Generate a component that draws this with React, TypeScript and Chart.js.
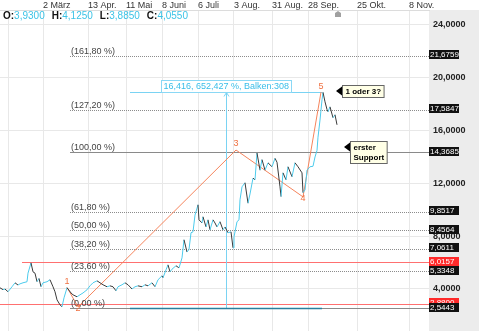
import React, { useEffect, useRef } from 'react';
import { Chart, registerables } from 'chart.js';

Chart.register(...registerables);

// ---- data ----
const barIndex = [
  0, 3, 5, 8, 12, 15, 18, 20, 23, 27, 28, 31, 33, 35, 37, 39, 41, 43, 47, 50,
  53, 55, 57, 60, 62, 64, 67, 68, 71, 73, 77, 80, 83, 87, 90, 93, 97, 100, 103, 107,
  110, 113, 116, 118, 122, 125, 128, 132, 135, 138, 142, 145, 148, 152, 155, 158, 162, 163, 166, 168,
  170, 172, 176, 179, 182, 184, 187, 189, 191, 193, 195, 198, 199, 202, 203, 206, 208, 210, 213, 215,
  217, 220, 223, 225, 228, 231, 233, 234, 237, 239, 240, 242, 245, 248, 250, 253, 255, 257, 260, 262,
  265, 268, 272, 275, 277, 280, 281, 283, 286, 288, 292, 295, 298, 302, 303, 305, 307, 310, 313, 315,
  317, 318, 320, 322, 323, 325, 327, 328, 330, 333, 335, 337,
];
const closePrice = [
  4.09, 3.95, 4.0, 3.79, 4.17, 4.47, 4.3, 4.39, 4.47, 4.55, 5.2, 5.98, 5.3, 5.2, 4.55, 4.8, 4.17, 4.47, 4.55, 4.7,
  4.17, 3.79, 3.18, 2.8, 2.65, 3.33, 4.09, 4.0, 3.7, 3.56, 3.41, 3.56, 3.7, 3.94, 4.24, 4.47, 4.62, 4.47, 4.32, 4.17,
  4.24, 4.17, 3.86, 4.17, 4.32, 4.47, 4.32, 4.0, 4.17, 4.24, 4.17, 4.32, 4.24, 4.47, 4.17, 4.7, 5.0, 4.85, 5.45, 5.83,
  5.3, 5.5, 5.76, 5.6, 6.36, 7.73, 6.8, 7.0, 8.26, 8.33, 9.6, 10.38, 9.24, 9.0, 9.47, 8.7, 9.24, 8.48, 9.24, 9.0,
  8.7, 9.1, 8.48, 8.7, 8.26, 8.33, 7.12, 7.95, 9.1, 9.24, 10.76, 11.74, 12.05, 10.5, 11.2, 12.4, 12.27, 14.3, 13.0, 13.8,
  13.0, 13.56, 13.26, 13.9, 13.6, 11.74, 11.0, 12.8, 12.27, 13.26, 12.5, 13.56, 13.26, 12.8, 11.3, 11.5, 13.0, 13.26, 13.3, 14.0,
  14.5, 15.5, 16.8, 18.33, 18.9, 18.18, 17.6, 17.42, 17.8, 16.97, 17.2, 16.44,
];

const xTickBars = [8, 43, 88, 126, 162, 198, 234, 272, 308, 357, 409];
const xTickLabels = ['', '2 März', '13 Apr.', '11 Mai', '8 Juni', '6 Juli', '3 Aug.', '31 Aug.', '28 Sep.', '25 Okt.', '8 Nov.'];
const yTicks = [4, 8, 12, 16, 20, 24];

const fibLabels = ['(0,00 %)', '(23,60 %)', '(38,20 %)', '(50,00 %)', '(61,80 %)', '(100,00 %)', '(127,20 %)', '(161,80 %)'];
const fibValues = [2.5443, 5.3348, 7.0611, 8.4564, 9.8517, 14.3685, 17.5847, 21.6759];
const fibStartBar = 70;

const redLevels = [6.0157, 2.88];
const redStartBars = [22, 0];

const waveLabels = ['1', '2', '3', '4', '5'];
const waveBars = [67, 78, 236, 303, 321];
const wavePrices = [4.13, 2.64, 14.53, 10.98, 18.92];

const measureBars = [130, 322];
const measurePrices = [2.5443, 18.9603];
const measureText = '16,416, 652,427 %, Balken:308';

const ohlcLabels = ['O:', 'H:', 'L:', 'C:'];
const ohlcValues = ['3,9300', '4,1250', '3,8850', '4,0550'];

const noteTexts = [['1 oder 3?'], ['erster', 'Support']];
const noteBars = [336, 344];
const notePrices = [19.0, 14.75];

const fmt = (v: number) => v.toFixed(4).replace('.', ',');

const CYAN = '#4ccbec';
const DARK = '#3a3a3a';
const ORANGE = '#f5845c';

const overlay = {
  id: 'overlay',
  beforeDraw(chart: any) {
    const { ctx, chartArea, width, height } = chart;
    ctx.save();
    ctx.fillStyle = '#ececec';
    ctx.fillRect(chartArea.right, chartArea.top, width - chartArea.right, height - chartArea.top);
    ctx.restore();
  },
  beforeDatasetsDraw(chart: any) {
    const { ctx, chartArea } = chart;
    const xs = chart.scales.x;
    const ys = chart.scales.y;
    ctx.save();
    // red lines
    ctx.strokeStyle = '#ff7070';
    ctx.lineWidth = 1.2;
    redLevels.forEach((v, i) => {
      const y = Math.round(ys.getPixelForValue(v)) + 0.5;
      ctx.beginPath();
      ctx.moveTo(xs.getPixelForValue(redStartBars[i]), y);
      ctx.lineTo(chartArea.right, y);
      ctx.stroke();
    });
    // fib lines
    fibValues.forEach((v, i) => {
      const y = Math.round(ys.getPixelForValue(v)) + 0.5;
      const solid = fibLabels[i] === '(100,00 %)' || fibLabels[i] === '(0,00 %)';
      ctx.setLineDash(solid ? [] : [1, 1]);
      ctx.strokeStyle = solid ? '#8a8a8a' : '#8c8c8c';
      ctx.lineWidth = 1;
      ctx.beginPath();
      ctx.moveTo(xs.getPixelForValue(fibStartBar), y);
      ctx.lineTo(chartArea.right, y);
      ctx.stroke();
    });
    ctx.setLineDash([]);
    // measurement
    const x0 = xs.getPixelForValue(measureBars[0]);
    const x1 = xs.getPixelForValue(measureBars[1]);
    const xm = Math.round((x0 + x1) / 2) + 0.5;
    const yLow = Math.round(ys.getPixelForValue(measurePrices[0])) + 0.5;
    const yHigh = Math.round(ys.getPixelForValue(measurePrices[1])) + 0.5;
    ctx.strokeStyle = '#7ad3f3';
    ctx.lineWidth = 1;
    ctx.beginPath();
    ctx.moveTo(x0, yHigh);
    ctx.lineTo(x1, yHigh);
    ctx.moveTo(xm, yLow);
    ctx.lineTo(xm, yHigh);
    ctx.stroke();
    ctx.beginPath();
    ctx.moveTo(xm - 2.5, yHigh + 4);
    ctx.lineTo(xm, yHigh);
    ctx.lineTo(xm + 2.5, yHigh + 4);
    ctx.stroke();
    ctx.strokeStyle = '#2a7f9e';
    ctx.lineWidth = 1.5;
    ctx.beginPath();
    ctx.moveTo(x0, yLow);
    ctx.lineTo(x1, yLow);
    ctx.stroke();
    ctx.restore();
  },
  afterDatasetsDraw(chart: any) {
    const { ctx, chartArea } = chart;
    const xs = chart.scales.x;
    const ys = chart.scales.y;
    ctx.save();
    // fib labels
    ctx.font = '9px Arial';
    ctx.fillStyle = '#444';
    ctx.textBaseline = 'middle';
    ctx.textAlign = 'left';
    fibValues.forEach((v, i) => {
      ctx.fillText(fibLabels[i], xs.getPixelForValue(fibStartBar) + 1, ys.getPixelForValue(v) - 4.5);
    });
    // wave labels
    ctx.fillStyle = '#f07040';
    ctx.textAlign = 'center';
    waveLabels.forEach((t, i) => {
      const up = i % 2 === 0;
      ctx.fillText(t, xs.getPixelForValue(waveBars[i]), ys.getPixelForValue(wavePrices[i]) + (up ? -6 : 2));
    });
    // measurement box
    const x0 = xs.getPixelForValue(measureBars[0]);
    const x1 = xs.getPixelForValue(measureBars[1]);
    const xm = (x0 + x1) / 2;
    const yHigh = Math.round(ys.getPixelForValue(measurePrices[1]));
    ctx.font = '9px Arial';
    const tw = ctx.measureText(measureText).width;
    const bw = Math.round(tw + 4);
    const bx = Math.round(xm - bw / 2) + 0.5;
    ctx.fillStyle = '#ffffff';
    ctx.fillRect(bx, yHigh - 12 + 0.5, bw, 12);
    ctx.strokeStyle = '#8ad8f5';
    ctx.lineWidth = 1;
    ctx.strokeRect(bx, yHigh - 12 + 0.5, bw, 12);
    ctx.fillStyle = '#38bde8';
    ctx.textAlign = 'left';
    ctx.fillText(measureText, bx + 2, yHigh - 5.5);
    // notes
    ctx.font = 'bold 8px Arial';
    noteTexts.forEach((lines, i) => {
      const tx = Math.round(xs.getPixelForValue(noteBars[i]));
      const ty = Math.round(ys.getPixelForValue(notePrices[i]));
      const w = Math.max(...lines.map((l) => ctx.measureText(l).width)) + 6;
      const h = lines.length * 10 + 2;
      const bx2 = tx + 6 + 0.5;
      const by2 = ty - 6 + 0.5;
      ctx.fillStyle = '#ffffe6';
      ctx.fillRect(bx2, by2, w, h);
      ctx.strokeStyle = '#666';
      ctx.strokeRect(bx2, by2, w, h);
      ctx.fillStyle = '#000';
      ctx.beginPath();
      ctx.moveTo(tx, ty);
      ctx.lineTo(tx + 6, ty - 4.5);
      ctx.lineTo(tx + 6, ty + 4.5);
      ctx.closePath();
      ctx.fill();
      lines.forEach((l, j) => ctx.fillText(l, bx2 + 3, by2 + 6 + j * 10));
    });
    // axis value boxes
    ctx.font = '8px Arial';
    const drawBox = (v: number, bg: string) => {
      const y = ys.getPixelForValue(v);
      ctx.fillStyle = bg;
      ctx.fillRect(chartArea.right, Math.round(y - 5.5), 30, 9);
      ctx.fillStyle = '#fff';
      ctx.fillText(fmt(v), chartArea.right + 1, Math.round(y - 5.5) + 4.8);
    };
    redLevels.forEach((v) => drawBox(v, '#ff2a2a'));
    fibValues.forEach((v) => drawBox(v, '#111'));
    // header OHLC
    let hx = 3;
    ohlcLabels.forEach((l, i) => {
      ctx.font = 'bold 10px Arial';
      ctx.fillStyle = '#111';
      ctx.fillText(l, hx, 16);
      hx += ctx.measureText(l).width;
      ctx.font = '10px Arial';
      ctx.fillStyle = '#3cc3e6';
      ctx.fillText(ohlcValues[i], hx, 16);
      hx += ctx.measureText(ohlcValues[i]).width + 7;
    });
    // small marker icon
    const mx = xs.getPixelForValue(338);
    ctx.fillStyle = '#a0a0a0';
    ctx.beginPath();
    ctx.moveTo(mx - 3, 17);
    ctx.lineTo(mx - 3, 13);
    ctx.lineTo(mx, 11);
    ctx.lineTo(mx + 3, 13);
    ctx.lineTo(mx + 3, 17);
    ctx.closePath();
    ctx.fill();
    ctx.restore();
  },
};

export default function App() {
  const ref = useRef<HTMLCanvasElement | null>(null);
  useEffect(() => {
    if (!ref.current) return;
    const chart = new Chart(ref.current, {
      type: 'line',
      data: {
        datasets: [
          {
            data: barIndex.map((b, i) => ({ x: b, y: closePrice[i] })),
            borderColor: CYAN,
            borderWidth: 1,
            pointRadius: 0,
            tension: 0,
            segment: {
              borderColor: (c: any) => (c.p1.parsed.y >= c.p0.parsed.y ? CYAN : DARK),
            },
          },
          {
            data: waveBars.map((b, i) => ({ x: b, y: wavePrices[i] })),
            borderColor: ORANGE,
            borderWidth: 1,
            pointRadius: 0,
            tension: 0,
          },
        ],
      },
      options: {
        responsive: false,
        animation: false,
        devicePixelRatio: 1,
        layout: { padding: 0 },
        plugins: { legend: { display: false }, tooltip: { enabled: false } },
        scales: {
          x: {
            type: 'linear',
            position: 'top',
            min: 0,
            max: 429,
            afterBuildTicks: (s: any) => {
              s.ticks = xTickBars.map((v) => ({ value: v }));
            },
            afterFit: (s: any) => {
              s.height = 10;
              s.paddingLeft = 0;
              s.paddingRight = 0;
            },
            ticks: {
              callback: (v: any) => xTickLabels[xTickBars.indexOf(Number(v))] ?? '',
              align: 'start',
              autoSkip: false,
              maxRotation: 0,
              padding: -1,
              font: { size: 9, family: 'Arial' },
              color: '#333',
            },
            grid: { color: '#e8e8e8', drawTicks: false },
            border: { display: true, color: '#dcdcdc' },
          },
          y: {
            type: 'linear',
            position: 'right',
            min: 0.818,
            max: 25.136,
            afterBuildTicks: (s: any) => {
              s.ticks = yTicks.map((v) => ({ value: v }));
            },
            afterFit: (s: any) => {
              s.width = 50;
              s.paddingTop = 0;
              s.paddingBottom = 0;
            },
            ticks: {
              callback: (v: any) => fmt(Number(v)),
              padding: 4,
              font: { size: 9, weight: 'bold', family: 'Arial' },
              color: '#222',
            },
            grid: { color: '#e8e8e8', drawTicks: false },
            border: { display: false },
          },
        },
      } as any,
      plugins: [overlay],
    });
    return () => chart.destroy();
  }, []);
  return (
    <div style={{ position: 'absolute', left: 0, top: 0, width: 479, height: 331, background: '#fff' }}>
      <canvas ref={ref} width={479} height={331} style={{ display: 'block' }} />
    </div>
  );
}
